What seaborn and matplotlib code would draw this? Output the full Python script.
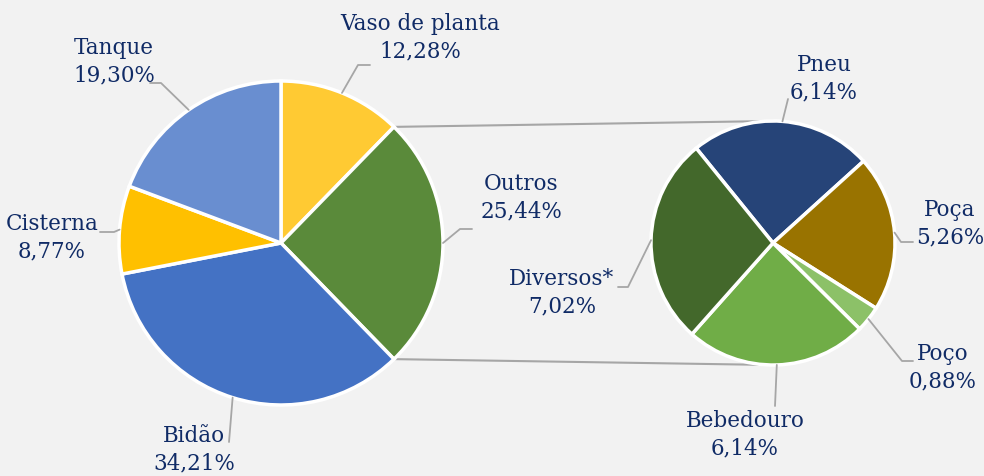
import numpy as np
import matplotlib.pyplot as plt
import seaborn as sns

# dados do gráfico (pizza de pizza)
main_labels = ["Vaso de planta", "Outros", "Bidão", "Cisterna", "Tanque"]
main_values = [12.28, 25.44, 34.21, 8.77, 19.30]
main_colors = ["#FFCA33", "#5A8A3A", "#4472C4", "#FFC000", "#698ED0"]

sub_labels = ["Pneu", "Poça", "Poço", "Bebedouro", "Diversos*"]
sub_values = [6.14, 5.26, 0.88, 6.14, 7.02]
sub_colors = ["#264478", "#997300", "#8CC168", "#70AD47", "#43682B"]

# posição dos rótulos (pixels a partir do topo)
main_text_pos = [(420, 38), (521, 198), (194, 450), (52, 238), (114, 62)]
main_leader_end = [(370, 66), (472, 230), (229, 443), (100, 233), (150, 84)]
main_leader_elbow = [(358, 66), (460, 230), (229, 443), (114, 233), (161, 84)]

sub_text_pos = [(824, 79), (950, 224), (943, 368), (745, 435), (562, 293)]
sub_leader_end = [(788, 100), (913, 243), (913, 362), (775, 407), (618, 288)]
sub_leader_elbow = [(788, 100), (901, 243), (902, 362), (775, 407), (628, 288)]

W, H = 984, 477
bg = "#F2F2F2"
txt = "#102B66"
gray = "#A6A6A6"

sns.set_theme(style="white")
plt.rcParams['font.family'] = ['DejaVu Serif']

fig = plt.figure(figsize=(9.84, 4.77), dpi=100, facecolor=bg)
ax = fig.add_axes([0, 0, 1, 1])
ax.set_facecolor(bg)

main_c = (281, H - 244)
main_r = 162
sub_c = (773, H - 244)
sub_r = 122
wp = dict(edgecolor="white", linewidth=2.5)

w_main, _ = ax.pie(main_values, colors=main_colors, startangle=90, counterclock=False,
                   center=main_c, radius=main_r, wedgeprops=wp)
w_sub, _ = ax.pie(sub_values, colors=sub_colors, startangle=129, counterclock=False,
                  center=sub_c, radius=sub_r, wedgeprops=wp)

ax.set_xlim(0, W)
ax.set_ylim(0, H)
ax.axis('off')

# linhas de ligação entre as pizzas
outros = w_main[1]
for ang, ty in [(outros.theta2, sub_c[1] + sub_r), (outros.theta1, sub_c[1] - sub_r)]:
    a = np.deg2rad(ang)
    ax.plot([main_c[0] + main_r * np.cos(a), sub_c[0]],
            [main_c[1] + main_r * np.sin(a), ty], color=gray, lw=1.5, zorder=0)


def rotular(wedges, labels, values, center, r, tpos, lend, lelb):
    for w, lab, val, tp, le, lb in zip(wedges, labels, values, tpos, lend, lelb):
        mid = np.deg2rad((w.theta1 + w.theta2) / 2)
        ax_ = center[0] + r * np.cos(mid)
        ay_ = center[1] + r * np.sin(mid)
        ax.plot([ax_, lb[0], le[0]], [ay_, H - lb[1], H - le[1]], color=gray, lw=1.3, zorder=1)
        s = f"{lab}\n{val:.2f}%".replace('.', ',')
        ax.text(tp[0], H - tp[1], s, ha='center', va='center', fontsize=15.5,
                color=txt, linespacing=1.3)


rotular(w_main, main_labels, main_values, main_c, main_r,
        main_text_pos, main_leader_end, main_leader_elbow)
rotular(w_sub, sub_labels, sub_values, sub_c, sub_r,
        sub_text_pos, sub_leader_end, sub_leader_elbow)

plt.savefig("out.png", dpi=100, facecolor=bg)
